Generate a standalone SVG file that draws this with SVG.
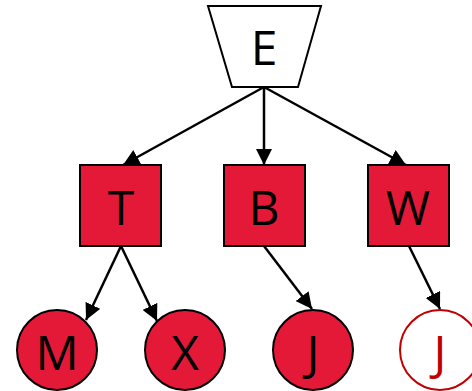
<svg xmlns="http://www.w3.org/2000/svg" width="472" height="391" viewBox="0 0 472 391">
<style>
.n{fill:#e31937;stroke:#000;stroke-width:2}
.t{font-family:"Open Sans","Liberation Sans",sans-serif;font-size:48px;fill:#000;text-anchor:middle;dominant-baseline:central}
.c line{stroke:#000;stroke-width:2.5;marker-end:url(#a)}
</style>
<defs>
<marker id="a" viewBox="0 0 10 10" refX="10" refY="5" markerWidth="6.5" markerHeight="6.5" orient="auto" markerUnits="strokeWidth">
<path d="M0,0 L10,5 L0,10 z" fill="#000"/>
</marker>
</defs>
<g class="c">
<line x1="264" y1="87" x2="123" y2="165"/>
<line x1="264" y1="87" x2="264" y2="165"/>
<line x1="264" y1="87" x2="406" y2="165"/>
<line x1="121" y1="246" x2="86" y2="320"/>
<line x1="121" y1="246" x2="157" y2="321"/>
<line x1="264" y1="246" x2="312" y2="309"/>
<line x1="409" y1="246" x2="440" y2="309"/>
</g>
<g id="E"><path d="M208,6 L321,6 L298,87 L232,87 Z" fill="#fff" stroke="#000" stroke-width="2"/><text class="t" x="264" y="46">E</text></g>
<g id="T"><rect class="n" x="80" y="165" width="81" height="81"/><text class="t" x="121" y="206">T</text></g>
<g id="B"><rect class="n" x="224" y="165" width="81" height="81"/><text class="t" x="264" y="206">B</text></g>
<g id="W"><rect class="n" x="368" y="165" width="81" height="81"/><text class="t" x="408" y="206">W</text></g>
<g id="M"><circle class="n" cx="57" cy="350" r="40"/><text class="t" x="57" y="351">M</text></g>
<g id="X"><circle class="n" cx="185" cy="350" r="40"/><text class="t" x="185" y="351">X</text></g>
<g id="J1"><circle class="n" cx="313" cy="350" r="40"/><text class="t" x="313" y="351">J</text></g>
<g id="J2"><circle cx="440" cy="350" r="40" fill="#fff" stroke="#c00000" stroke-width="2"/><text class="t" x="440" y="351" style="fill:#c00000">J</text></g>
</svg>
